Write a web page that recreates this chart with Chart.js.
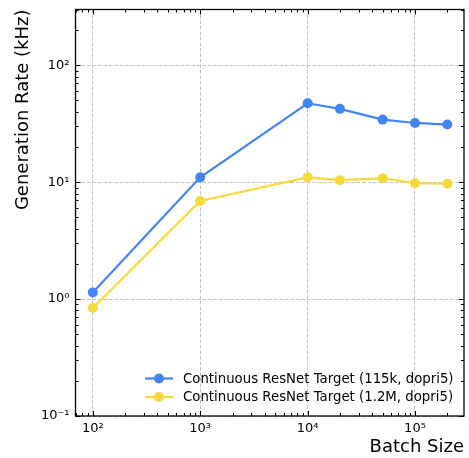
<!DOCTYPE html>
<html>
<head>
<meta charset="utf-8">
<script src="https://cdn.jsdelivr.net/npm/chart.js@4/dist/chart.umd.min.js"></script>
<style>
  html, body { margin: 0; padding: 0; background: #fff; }
  #wrap { width: 469px; height: 458px; }
</style>
</head>
<body>
<div id="wrap"><canvas id="chart"></canvas></div>
<script>
// batch sizes and generation rates (kHz)
const batchSizes = [100, 1000, 10000, 20000, 50000, 100000, 200000];
const rate115k = [1.14, 11.0, 47.3, 42.4, 34.3, 32.1, 31.1];
const rate12M = [0.84, 6.9, 11.0, 10.4, 10.8, 9.8, 9.7];

const seriesLabels = [
  'Continuous ResNet Target (115k, dopri5)',
  'Continuous ResNet Target (1.2M, dopri5)'
];
const seriesColors = ['#4285F4', '#F8D93A'];

const xTickValues = [1e2, 1e3, 1e4, 1e5];
const xTickLabels = ['10²', '10³', '10⁴', '10⁵'];
const yTickValues = [1e-1, 1e0, 1e1, 1e2];
const yTickLabels = ['10⁻¹', '10⁰', '10¹', '10²'];

const xRange = [69, 286000];
const yRange = [0.1, 300];

const FONT = 'DejaVu Sans';
const GRID = '#b0b0b0';

// major ticks at the decades, minor ticks at 2..9 of each decade
function logTicks(min, max, majors) {
  const ticks = [];
  for (let e = Math.floor(Math.log10(min)); e <= Math.ceil(Math.log10(max)); e++) {
    for (let m = 1; m <= 9; m++) {
      const v = m * Math.pow(10, e);
      if (v < min * 0.9999 || v > max * 1.0001) continue;
      ticks.push({ value: v, major: m === 1 && majors.some(t => Math.abs(t - v) / v < 1e-9) });
    }
  }
  return ticks;
}

function labelFor(values, labels) {
  return (val) => {
    const i = values.findIndex(t => Math.abs(t - val) / t < 1e-9);
    return i >= 0 ? labels[i] : '';
  };
}

// frame, inward ticks and the legend in the lower right
const frameAndLegend = {
  id: 'frameAndLegend',
  afterDatasetsDraw(chart) {
    const { ctx, chartArea: a, scales } = chart;
    ctx.save();
    ctx.strokeStyle = '#000';
    ctx.lineWidth = 1;
    scales.x.ticks.forEach(t => {
      const px = Math.round(scales.x.getPixelForValue(t.value)) + 0.5;
      const len = t.major ? 5 : 3;
      ctx.beginPath();
      ctx.moveTo(px, a.bottom); ctx.lineTo(px, a.bottom - len);
      ctx.moveTo(px, a.top); ctx.lineTo(px, a.top + len);
      ctx.stroke();
    });
    scales.y.ticks.forEach(t => {
      const py = Math.round(scales.y.getPixelForValue(t.value)) + 0.5;
      const len = t.major ? 5 : 3;
      ctx.beginPath();
      ctx.moveTo(a.left, py); ctx.lineTo(a.left + len, py);
      ctx.moveTo(a.right, py); ctx.lineTo(a.right - len, py);
      ctx.stroke();
    });
    ctx.lineWidth = 1.3;
    ctx.strokeRect(a.left, a.top, a.right - a.left, a.bottom - a.top);

    // legend
    const rowY = [a.bottom - 37.5, a.bottom - 19];
    const lineX0 = 145, lineX1 = 173, textX = 183;
    ctx.font = '13.3px "' + FONT + '"';
    ctx.textBaseline = 'middle';
    ctx.textAlign = 'left';
    chart.data.datasets.forEach((ds, i) => {
      const y = rowY[i];
      ctx.strokeStyle = ds.borderColor;
      ctx.lineWidth = 2.2;
      ctx.beginPath(); ctx.moveTo(lineX0, y); ctx.lineTo(lineX1, y); ctx.stroke();
      ctx.fillStyle = ds.backgroundColor;
      ctx.beginPath(); ctx.arc((lineX0 + lineX1) / 2, y, 5, 0, Math.PI * 2); ctx.fill();
      ctx.fillStyle = '#000';
      ctx.fillText(ds.label, textX, y + 1);
    });
    ctx.restore();
  }
};

const makeSeries = (values) => batchSizes.map((x, i) => ({ x, y: values[i] }));

const gridColor = (c) => (c.tick && c.tick.major ? GRID : 'rgba(0,0,0,0)');

new Chart(document.getElementById('chart'), {
  type: 'line',
  data: {
    datasets: [rate115k, rate12M].map((vals, i) => ({
      label: seriesLabels[i],
      data: makeSeries(vals),
      borderColor: seriesColors[i],
      backgroundColor: seriesColors[i],
      borderWidth: 2.2,
      pointRadius: 5,
      pointHoverRadius: 5,
      pointBorderWidth: 0,
      tension: 0
    }))
  },
  options: {
    responsive: true,
    maintainAspectRatio: false,
    animation: false,
    events: [],
    layout: { padding: { top: 9.5, right: 4.5, left: 0, bottom: 0 } },
    plugins: { legend: { display: false }, tooltip: { enabled: false } },
    scales: {
      x: {
        type: 'logarithmic',
        min: xRange[0],
        max: xRange[1],
        afterBuildTicks: (s) => { s.ticks = logTicks(xRange[0], xRange[1], xTickValues); },
        afterFit: (s) => { s.height = 42; s.paddingLeft = 0; s.paddingRight = 0; },
        ticks: {
          autoSkip: false,
          maxRotation: 0,
          padding: 5,
          color: '#000',
          font: { family: FONT, size: 13 },
          callback: labelFor(xTickValues, xTickLabels)
        },
        grid: { drawTicks: false, color: gridColor, lineWidth: 0.8 },
        border: { display: false, dash: [3.5, 2] },
        title: {
          display: true,
          text: 'Batch Size',
          align: 'end',
          color: '#000',
          font: { family: FONT, size: 18 },
          padding: { top: 0, bottom: 0 }
        }
      },
      y: {
        type: 'logarithmic',
        min: yRange[0],
        max: yRange[1],
        afterBuildTicks: (s) => { s.ticks = logTicks(yRange[0], yRange[1], yTickValues); },
        afterFit: (s) => { s.width = 75.5; s.paddingTop = 0; s.paddingBottom = 0; },
        ticks: {
          autoSkip: false,
          padding: 6,
          color: '#000',
          font: { family: FONT, size: 13 },
          callback: labelFor(yTickValues, yTickLabels)
        },
        grid: { drawTicks: false, color: gridColor, lineWidth: 0.8 },
        border: { display: false, dash: [3.5, 2] },
        title: {
          display: true,
          text: 'Generation Rate (kHz)',
          align: 'end',
          color: '#000',
          font: { family: FONT, size: 18 },
          padding: { top: 13, bottom: 0 }
        }
      }
    }
  },
  plugins: [frameAndLegend]
});
</script>
</body>
</html>
